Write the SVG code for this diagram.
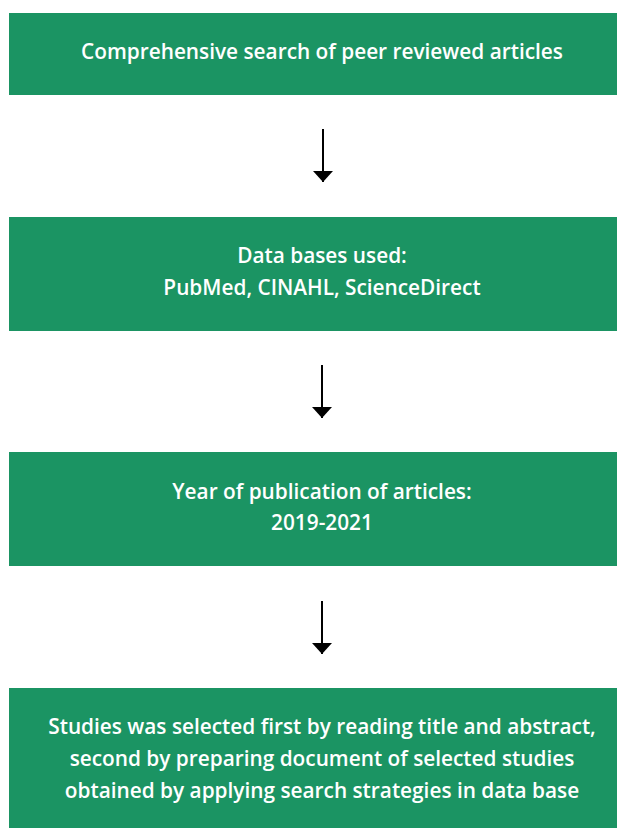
<svg xmlns="http://www.w3.org/2000/svg" width="617" height="828" viewBox="0 0 617 828">
  <defs>
    <marker id="head" markerWidth="11" markerHeight="20" refX="11" refY="10" orient="auto" markerUnits="userSpaceOnUse" viewBox="0 0 11 20">
      <path d="M0,0 L11,10 L0,20 Z" fill="#000"/>
    </marker>
  </defs>
  <style>
    .box { fill: #1b9463; }
    .label { font-family: "Open Sans", Lato, "Liberation Sans", sans-serif; font-weight: 600; font-size: 20.8px; fill: #ffffff; text-anchor: middle; }
    .conn { stroke: #000; stroke-width: 2; fill: none; }
  </style>
  <rect width="617" height="828" fill="#fff"/>

  <g id="node-search">
    <rect class="box" x="9" y="13" width="608" height="82"/>
    <text class="label" x="322" y="59">Comprehensive search of peer reviewed articles</text>
  </g>

  <g id="node-databases">
    <rect class="box" x="9" y="217" width="608" height="114"/>
    <text class="label" x="322" y="263">Data bases used:</text>
    <text class="label" x="322" y="295">PubMed, CINAHL, ScienceDirect</text>
  </g>

  <g id="node-years">
    <rect class="box" x="9" y="452" width="608" height="114"/>
    <text class="label" x="322" y="499">Year of publication of articles:</text>
    <text class="label" x="322" y="530">2019-2021</text>
  </g>

  <g id="node-selection">
    <rect class="box" x="9" y="688" width="608" height="140"/>
    <text class="label" x="322" y="734">Studies was selected first by reading title and abstract,</text>
    <text class="label" x="322" y="766">second by preparing document of selected studies</text>
    <text class="label" x="322" y="798">obtained by applying search strategies in data base</text>
  </g>

  <g id="connectors">
    <line class="conn" x1="323" y1="129" x2="323" y2="182" marker-end="url(#head)"/>
    <line class="conn" x1="322" y1="365" x2="322" y2="418" marker-end="url(#head)"/>
    <line class="conn" x1="322" y1="601" x2="322" y2="654" marker-end="url(#head)"/>
  </g>
</svg>
